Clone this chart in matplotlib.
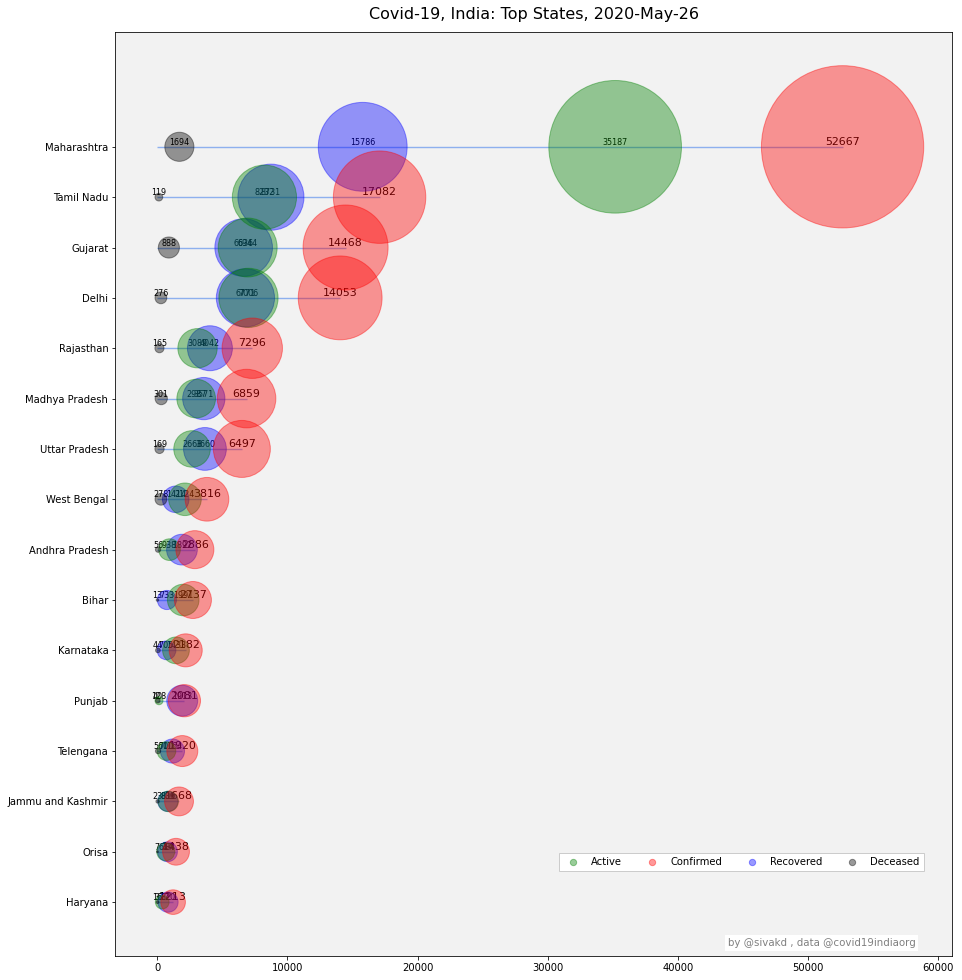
#!/usr/bin/env python3
# covid19 india top states bubble chart

import numpy as np
import matplotlib
matplotlib.use("Agg")
import matplotlib.pyplot as plt

DPI = 72

states = ["Maharashtra", "Tamil Nadu", "Gujarat", "Delhi", "Rajasthan",
          "Madhya Pradesh", "Uttar Pradesh", "West Bengal", "Andhra Pradesh",
          "Bihar", "Karnataka", "Punjab", "Telengana", "Jammu and Kashmir",
          "Orisa", "Haryana"]
confirmed = [52667, 17082, 14468, 14053, 7296, 6859, 6497, 3816, 2886,
             2737, 2182, 2081, 1920, 1668, 1438, 1213]
active    = [35187, 8232, 6944, 7006, 3089, 2987, 2668, 2124, 938,
             1991, 1433, 128, 700, 836, 647, 377]
recovered = [15786, 8731, 6636, 6771, 4042, 3571, 3660, 1414, 1892,
             733, 705, 1913, 1164, 809, 784, 820]
deceased  = [1694, 119, 888, 276, 165, 301, 169, 278, 56,
             13, 44, 40, 56, 23, 7, 16]

# name, values, colour, drawing order (recovered lies under active and confirmed)
series = [("Active", active, "green", 1.1),
          ("Confirmed", confirmed, "red", 1.2),
          ("Recovered", recovered, "blue", 1.0),
          ("Deceased", deceased, "black", 1.3)]

y = np.arange(len(states))[::-1]

fig = plt.figure(figsize=(962 / DPI, 980 / DPI), dpi=DPI)
ax = fig.add_axes([115.3 / 962, 1 - 956 / 980, 837 / 962, 924 / 980])
ax.set_facecolor("#f2f2f2")

# guide lines from 0 to confirmed
ax.hlines(y, 0, confirmed, color="cornflowerblue", alpha=0.7, lw=1.4, zorder=0.5)

for name, vals, col, z in series:
    ax.scatter(vals, y, s=np.array(vals) / 2, color=col, alpha=0.4,
               label=name, zorder=z)
    fs = 11 if name == "Confirmed" else 8
    for xv, yv in zip(vals, y):
        ax.text(xv, yv, str(xv), ha="center", va="bottom", fontsize=fs,
                zorder=0.8)

ax.set_yticks(y)
ax.set_yticklabels(states)
ax.set_ylim(-1.07, 17.28)
ax.set_xlim(-3230, 61100)

leg = ax.legend(loc="lower right", bbox_to_anchor=(0.972, 0.087), ncol=4,
                fancybox=False, framealpha=1.0, fontsize=10, columnspacing=2.0)
for h in leg.legend_handles:
    h.set_sizes([40])

ax.text(0.956, 0.014, "by @sivakd , data @covid19indiaorg", transform=ax.transAxes,
        ha="right", va="center", fontsize=10.3, color="grey",
        bbox=dict(facecolor="white", edgecolor="none", pad=3))

fig.suptitle("Covid-19, India: Top States, 2020-May-26", fontsize=16, x=534 / 962,
             y=1 - 14 / 980, va="center")

fig.savefig("out.png", dpi=DPI, facecolor="white")
